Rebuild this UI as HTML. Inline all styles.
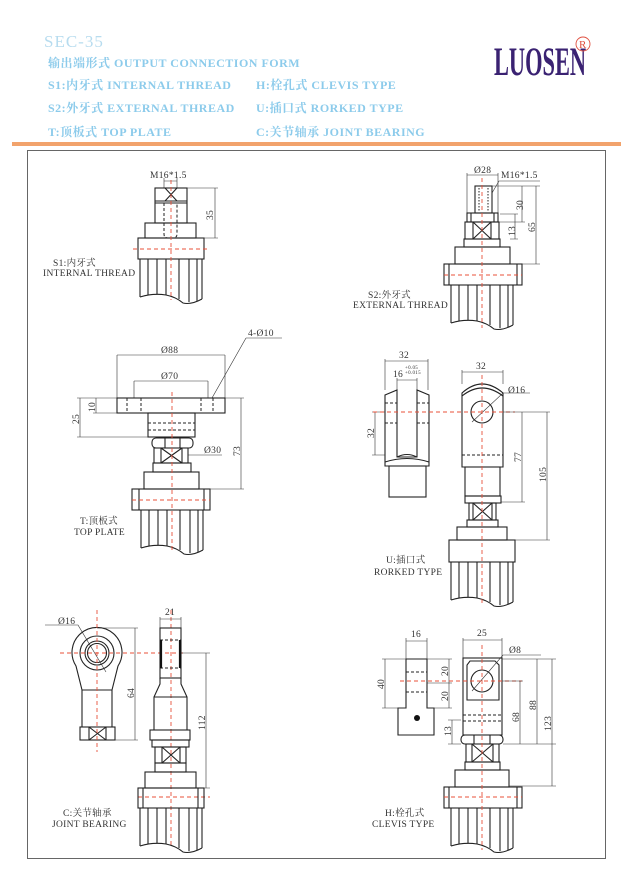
<!DOCTYPE html>
<html><head><meta charset="utf-8"><style>
html,body{margin:0;padding:0;background:#fff;}
svg{display:block;}
.h{font-family:"Liberation Serif","Noto Serif CJK SC",serif;fill:#8ccbeb;font-weight:bold;font-size:12px;letter-spacing:0.5px;}
.t{font-family:"Liberation Serif","Noto Serif CJK SC",serif;fill:#333;font-size:9.5px;letter-spacing:0.3px;}
.s{fill:none;stroke:#222;stroke-width:1.1;}
.d{fill:none;stroke:#333;stroke-width:0.6;}
.r{fill:none;stroke:#e8503a;stroke-width:0.9;stroke-dasharray:4 3;}
.k{fill:none;stroke:#222;stroke-width:1;stroke-dasharray:3 2;}
</style></head><body>
<svg width="625" height="874" viewBox="0 0 625 874" xmlns="http://www.w3.org/2000/svg">
<defs>
<g id="rod">
<path class="s" d="M-31,0V38M-23,0V36M-14,0V35M-5,0V36M8,0V40M18,0V43M26,0V42M31,0V40"/>
<path class="s" d="M-31,38Q-18,34 -5,36Q5,38 12,44Q20,46 31,40"/>
</g>
</defs>
<!-- header -->
<text x="44" y="47" style="font-family:'Liberation Serif',serif;font-size:17px;fill:#b7dcef;letter-spacing:1px">SEC-35</text>
<text x="48" y="67" class="h">输出端形式 OUTPUT CONNECTION FORM</text>
<text x="48" y="89" class="h">S1:内牙式 INTERNAL THREAD</text>
<text x="256" y="89" class="h">H:栓孔式 CLEVIS TYPE</text>
<text x="48" y="112" class="h">S2:外牙式 EXTERNAL THREAD</text>
<text x="256" y="112" class="h">U:插口式 RORKED TYPE</text>
<text x="48" y="136" class="h">T:顶板式 TOP PLATE</text>
<text x="256" y="136" class="h">C:关节轴承 JOINT BEARING</text>
<text x="0" y="0" transform="translate(494,75) scale(0.56,1)" style="font-family:'Liberation Serif',serif;font-weight:bold;font-size:40px;fill:#3a2272">LUOSEN</text>
<circle cx="583" cy="44" r="7" fill="none" stroke="#e05040" stroke-width="0.9"/>
<text x="579" y="48" style="font-family:'Liberation Serif',serif;font-size:11px;fill:#e05040">R</text>
<rect x="12" y="142" width="609" height="4" fill="#f2a36c"/>
<rect x="27.5" y="150.5" width="578" height="708" fill="none" stroke="#666" stroke-width="1"/>

<!-- S1 -->
<text x="150" y="178" class="t">M16*1.5</text>
<path class="d" d="M164,178V188M177,178V188M164,181H177"/>
<rect class="s" x="155" y="188" width="32" height="35"/>
<path class="s" d="M155,201H187M155,203H187M165,188L177,201M177,188L165,201"/>
<path class="k" d="M164,203V234Q164,238 168,238H173Q177,238 177,234V203"/>
<rect class="s" x="145" y="223" width="51" height="15"/>
<rect class="s" x="138" y="238" width="66" height="21"/>
<use href="#rod" transform="translate(171,259)"/>
<path class="r" d="M171,180V300M133,249H210"/>
<path class="d" d="M187,188H218M196,238H218M215,188V238"/>
<text transform="translate(213,220) rotate(-90)" class="t">35</text>
<text x="53" y="266" class="t">S1:内牙式</text>
<text x="43" y="276" class="t">INTERNAL THREAD</text>

<!-- S2 -->
<text x="474" y="173" class="t">Ø28</text>
<path class="d" d="M467,173V213M498,173V213M467,175H498"/>
<text x="501" y="178" class="t">M16*1.5</text>
<path class="d" d="M492,193L499,181H540"/>
<rect class="s" x="475" y="186" width="17" height="27"/>
<path d="M479,188V211M488,188V211" stroke="#222" stroke-width="1" stroke-dasharray="1.5 1.5"/>
<rect class="s" x="467" y="213" width="31" height="9"/>
<path class="s" d="M471,213V222M494,213V222"/>
<rect class="s" x="465" y="222" width="34" height="17"/>
<path class="s" d="M473,222V239M491,222V239M473,222L491,239M491,222L473,239"/>
<rect class="s" x="464" y="239" width="36" height="8"/>
<rect class="s" x="455" y="247" width="55" height="17"/>
<rect class="s" x="444" y="264" width="78" height="21"/>
<path class="s" d="M449,264V285M517,264V285"/>
<use href="#rod" transform="translate(482,285)"/>
<path class="r" d="M482,178V328M444,275H522"/>
<path class="d" d="M492,186H540M499,222H525M500,214H518M510,239H518M522,186V222M515,214V239M500,264H540M536,186V264"/>
<text transform="translate(523,210) rotate(-90)" class="t">30</text>
<text transform="translate(515,236) rotate(-90)" class="t">13</text>
<text transform="translate(535,232) rotate(-90)" class="t">65</text>
<text x="368" y="298" class="t">S2:外牙式</text>
<text x="353" y="308" class="t">EXTERNAL THREAD</text>

<!-- T -->
<text x="248" y="336" class="t">4-Ø10</text>
<path class="d" d="M246,338H282M246,338L212,398"/>
<text x="161" y="353" class="t">Ø88</text>
<path class="d" d="M117,355H225M117,355V398M225,355V398"/>
<text x="161" y="379" class="t">Ø70</text>
<path class="d" d="M134,381H208M134,381V398M208,381V398"/>
<rect class="s" x="117" y="398" width="108" height="15"/>
<path class="k" d="M127,398V413M141,398V413M201,398V413M213,398V413"/>
<rect class="s" x="148" y="413" width="47" height="24"/>
<path class="k" d="M148,423H195M148,430H195"/>
<rect class="s" x="152" y="438" width="41" height="10" rx="4"/>
<path class="s" d="M165,438V448M180,438V448"/>
<rect class="s" x="154" y="448" width="34" height="15"/>
<path class="s" d="M161,448V463M182,448V463M161,448L182,463M182,448L161,463"/>
<rect class="s" x="153" y="463" width="38" height="9"/>
<rect class="s" x="144" y="472" width="55" height="17"/>
<rect class="s" x="132" y="489" width="78" height="21"/>
<path class="s" d="M139,489V510M204,489V510"/>
<use href="#rod" transform="translate(172,510)"/>
<path class="r" d="M172,392V550M132,500H210"/>
<path class="d" d="M93,398H117M93,413H117M96,398V413M77,398H117M77,437H148M80,398V437M225,398H244M199,489H244M241,398V489M188,455H222"/>
<text x="204" y="453" class="t">Ø30</text>
<text transform="translate(95,412) rotate(-90)" class="t">10</text>
<text transform="translate(79,424) rotate(-90)" class="t">25</text>
<text transform="translate(240,456) rotate(-90)" class="t">73</text>
<text x="80" y="524" class="t">T:顶板式</text>
<text x="74" y="535" class="t">TOP PLATE</text>

<!-- U -->
<text x="399" y="358" class="t">32</text>
<path class="d" d="M385,359V390M428,359V390M385,361H428"/>
<text x="393" y="377" class="t">16</text>
<text x="405" y="369" class="t" style="font-size:5px">+0.05</text>
<text x="405" y="374" class="t" style="font-size:5px">+0.015</text>
<path class="d" d="M397,378V392M417,378V392M397,380H417"/>
<path class="s" d="M385,395L397,390V457H417V390L429,395V466H385Z"/>
<path class="s" d="M397,457Q407,452 417,457M385,462Q407,455 429,462"/>
<path class="k" d="M385,403H397M417,403H429M385,423H397M417,423H429"/>
<rect class="s" x="389" y="466" width="37" height="31"/>
<path class="d" d="M372,412H385M372,455H385M375,412V455"/>
<text transform="translate(374,438) rotate(-90)" class="t">32</text>
<text x="476" y="369" class="t">32</text>
<path class="d" d="M462,370V384M503,370V384M462,372H503"/>
<path class="s" d="M462,467V393Q482,375 503,393V467Z"/>
<path class="s" d="M462,396Q482,380 503,396"/>
<circle class="s" cx="482" cy="412" r="11"/>
<path class="d" d="M472,422L503,393H530"/>
<text x="508" y="393" class="t">Ø16</text>
<path class="k" d="M462,455H503"/>
<rect class="s" x="465" y="467" width="35" height="29"/>
<rect class="s" x="465" y="496" width="36" height="7"/>
<rect class="s" x="469" y="503" width="27" height="17"/>
<path class="s" d="M473,503L492,520M492,503L473,520M473,503V520M492,503V520"/>
<rect class="s" x="467" y="520" width="31" height="7"/>
<rect class="s" x="457" y="527" width="50" height="13"/>
<rect class="s" x="449" y="540" width="66" height="22"/>
<use href="#rod" transform="translate(482,562)"/>
<path class="r" d="M482,375V604M373,412H515"/>
<path class="d" d="M503,412H550M501,502H525M522,412V502M507,540H550M547,412V540"/>
<text transform="translate(521,462) rotate(-90)" class="t">77</text>
<text transform="translate(546,482) rotate(-90)" class="t">105</text>
<text x="386" y="563" class="t">U:插口式</text>
<text x="374" y="575" class="t">RORKED TYPE</text>

<!-- C -->
<text x="58" y="624" class="t">Ø16</text>
<path class="d" d="M45,625H78L106,672"/>
<path class="s" d="M76,666A25,25 0 1,1 118,666L112,690H82Z"/>
<circle class="s" cx="97" cy="653" r="17"/>
<circle class="s" cx="97" cy="653" r="12"/>
<circle class="s" cx="97" cy="653" r="9.5"/>
<path class="s" d="M82,690V727M112,690V727"/>
<rect class="s" x="80" y="727" width="35" height="13"/>
<path class="s" d="M89,727V740M106,727V740M89,727L106,740M106,727L89,740"/>
<path class="r" d="M97,610V752M60,653H185M171,610V848M138,797H210"/>
<path class="d" d="M97,628H138M115,740H138M135,628V740"/>
<text transform="translate(134,698) rotate(-90)" class="t">64</text>
<text x="165" y="615" class="t">21</text>
<path class="d" d="M160,617V628M181,617V628M160,619H181"/>
<rect class="s" x="160" y="628" width="21" height="50"/>
<path class="k" d="M160,640H181M160,668H181"/>
<path d="M161,640V668M180,640V668" stroke="#111" stroke-width="2.2"/>
<path class="s" d="M160,678V684L154,697V730M181,678V684L187,697V730M154,697H187"/>
<rect class="s" x="150" y="730" width="40" height="10"/>
<rect class="s" x="152" y="740" width="37" height="7"/>
<rect class="s" x="155" y="747" width="31" height="16"/>
<path class="s" d="M162,747L180,763M180,747L162,763M162,747V763M180,747V763"/>
<rect class="s" x="155" y="763" width="31" height="9"/>
<rect class="s" x="145" y="772" width="51" height="16"/>
<rect class="s" x="138" y="788" width="66" height="20"/>
<path class="s" d="M143,788V808M198,788V808"/>
<use href="#rod" transform="translate(171,808)"/>
<path class="d" d="M181,653H210M204,788H210M206,653V788"/>
<text transform="translate(205,730) rotate(-90)" class="t">112</text>
<text x="63" y="816" class="t">C:关节轴承</text>
<text x="52" y="827" class="t">JOINT BEARING</text>

<!-- H -->
<text x="411" y="637" class="t">16</text>
<path class="d" d="M406,638V659M427,638V659M406,641H427"/>
<path class="s" d="M406,659H427V708H434V735H398V708H406Z"/>
<path class="k" d="M406,672H427M406,692H427"/>
<circle cx="417" cy="718" r="3" fill="#111"/>
<path class="d" d="M382,659H406M382,708H406M385,659V708M427,659H452M427,683H452M427,708H452M449,659V708"/>
<text transform="translate(384,689) rotate(-90)" class="t">40</text>
<text transform="translate(448,676) rotate(-90)" class="t">20</text>
<text transform="translate(448,701) rotate(-90)" class="t">20</text>
<text x="477" y="636" class="t">25</text>
<path class="d" d="M463,638V658M502,638V658M463,640H502"/>
<rect class="s" x="463" y="658" width="39" height="77"/>
<path class="s" d="M470,661H495L499,665V700H467V665Z"/>
<circle class="s" cx="482" cy="681" r="11"/>
<path class="d" d="M472,691L503,655H541"/>
<text x="509" y="653" class="t">Ø8</text>
<path class="k" d="M463,715H502M463,721H502"/>
<rect class="s" x="461" y="735" width="42" height="9" rx="4"/>
<path class="s" d="M474,735V744M490,735V744"/>
<rect class="s" x="466" y="744" width="33" height="18"/>
<path class="s" d="M472,744L493,762M493,744L472,762M472,744V762M493,744V762"/>
<rect class="s" x="465" y="762" width="35" height="8"/>
<rect class="s" x="455" y="770" width="54" height="17"/>
<rect class="s" x="444" y="787" width="78" height="21"/>
<path class="s" d="M449,787V808M517,787V808"/>
<use href="#rod" transform="translate(482,808)"/>
<path class="r" d="M482,645V850M400,681H522M444,797H522"/>
<path class="d" d="M502,681H523M503,744H556M520,681V744M502,659H556M537,659V744M509,786H556M552,659V786M452,720V744M448,720H461M448,744H461"/>
<text transform="translate(519,722) rotate(-90)" class="t">68</text>
<text transform="translate(536,710) rotate(-90)" class="t">88</text>
<text transform="translate(551,731) rotate(-90)" class="t">123</text>
<text transform="translate(451,736) rotate(-90)" class="t">13</text>
<text x="385" y="816" class="t">H:栓孔式</text>
<text x="372" y="827" class="t">CLEVIS TYPE</text>
</svg>
</body></html>
